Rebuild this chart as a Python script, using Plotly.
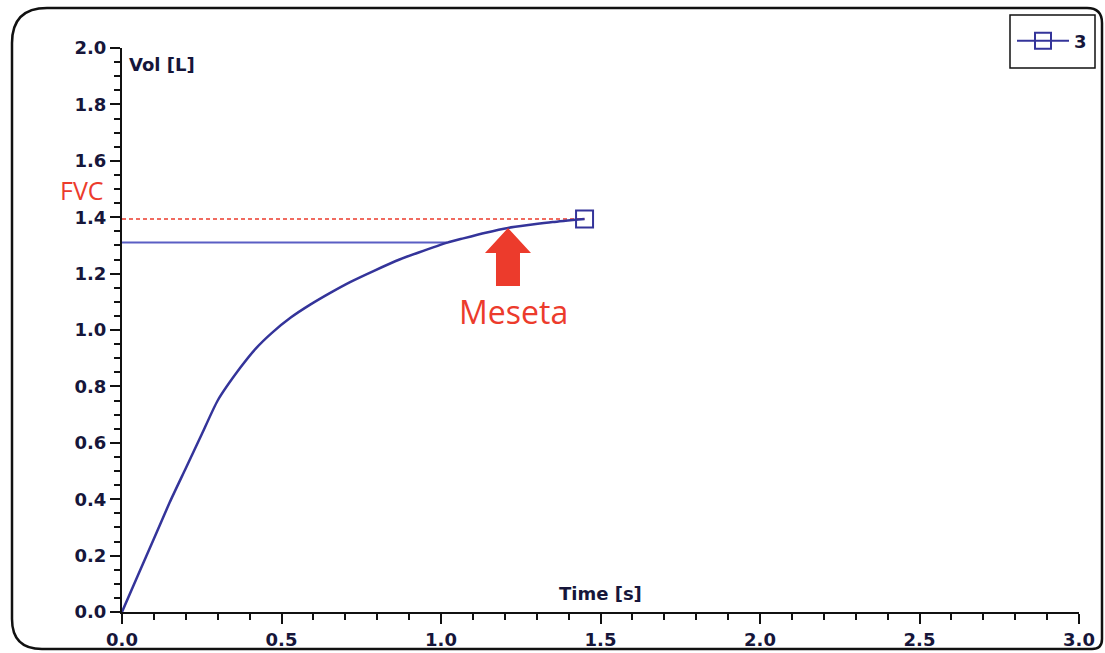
import plotly.graph_objects as go

# ---- data ----
time_s = [0.0, 0.05, 0.10, 0.15, 0.20, 0.25, 0.30, 0.37, 0.42, 0.47, 0.53,
          0.59, 0.65, 0.715, 0.79, 0.87, 0.93, 1.02, 1.07, 1.14, 1.21, 1.28, 1.35, 1.45]
vol_L = [0.0, 0.13, 0.26, 0.39, 0.51, 0.63, 0.75, 0.865, 0.935, 0.99, 1.045,
         1.09, 1.13, 1.17, 1.21, 1.25, 1.275, 1.31, 1.325, 1.345, 1.362, 1.373, 1.383, 1.394]
fvc_time = [0.0, 1.45]
fvc_vol = [1.394, 1.394]
plateau_time = [0.0, 1.02]
plateau_vol = [1.31, 1.31]
end_time = [1.45]
end_vol = [1.394]
meseta_point = (1.21, 1.362)
series_name = "3"
x_ticks = [0.0, 0.5, 1.0, 1.5, 2.0, 2.5, 3.0]
y_ticks = [0.0, 0.2, 0.4, 0.6, 0.8, 1.0, 1.2, 1.4, 1.6, 1.8, 2.0]

NAVY = "#34349a"
RED = "#ec3b2c"
TXT = "#16163a"
tick_font = dict(family="DejaVu Sans", size=18, color=TXT, weight="bold")

fig = go.Figure()
fig.add_trace(go.Scatter(x=fvc_time, y=fvc_vol, mode="lines", showlegend=False,
                         line=dict(color=RED, width=1.5, dash="4px,3px"), hoverinfo="skip"))
fig.add_trace(go.Scatter(x=plateau_time, y=plateau_vol, mode="lines", showlegend=False,
                         line=dict(color="#5a5ec4", width=2), hoverinfo="skip"))
fig.add_trace(go.Scatter(x=time_s, y=vol_L, mode="lines", showlegend=False,
                         legendgroup="s",
                         line=dict(color=NAVY, width=2.5, shape="spline", smoothing=0.6)))
fig.add_trace(go.Scatter(x=end_time, y=end_vol, mode="lines+markers", name=series_name,
                         legendgroup="s", line=dict(color=NAVY, width=2),
                         marker=dict(symbol="square-open", size=17,
                                     color=NAVY, line=dict(color=NAVY, width=2))))

axis_common = dict(showline=True, linecolor="#111111", linewidth=2, ticks="outside",
                   ticklen=10, tickwidth=2, tickcolor="#111111", showgrid=False,
                   zeroline=False, tickfont=tick_font, tickformat=".1f", automargin=False)
fig.update_xaxes(range=[0, 3.0], tickvals=x_ticks,
                 minor=dict(dtick=0.1, ticks="outside", ticklen=6, tickwidth=2,
                            tickcolor="#111111", showgrid=False),
                 **axis_common)
fig.update_yaxes(range=[0, 2.0], tickvals=y_ticks,
                 minor=dict(dtick=0.05, ticks="outside", ticklen=6, tickwidth=2,
                            tickcolor="#111111", showgrid=False),
                 **axis_common)

# axis titles
fig.add_annotation(text="Vol [L]", xref="paper", yref="paper", x=0, y=1.0,
                   xanchor="left", yanchor="top", xshift=5, yshift=-4, showarrow=False,
                   font=dict(family="DejaVu Sans", size=18, color=TXT, weight="bold"))
fig.add_annotation(text="Time [s]", xref="x", yref="paper", x=1.5, y=0,
                   xanchor="center", yanchor="bottom", yshift=6, showarrow=False,
                   font=dict(family="DejaVu Sans", size=18, color=TXT, weight="bold"))
# labels
fig.add_annotation(text="FVC", xref="paper", yref="y", x=0, y=fvc_vol[0],
                   xanchor="center", yanchor="bottom", xshift=-40, yshift=10,
                   showarrow=False, font=dict(family="Open Sans", size=25, color=RED))
fig.add_annotation(text="Meseta", xref="x", yref="y", x=meseta_point[0], y=meseta_point[1],
                   xanchor="center", yanchor="top", xshift=6, yshift=-60,
                   showarrow=False, font=dict(family="Open Sans", size=32, color=RED))

# block arrow pointing at the plateau (pixel path anchored at the data point)
fig.add_shape(type="path", xref="x", yref="y", xsizemode="pixel", ysizemode="pixel",
              xanchor=meseta_point[0], yanchor=meseta_point[1],
              path="M0,0 L23,-25 L12,-25 L12,-58 L-12,-58 L-12,-25 L-23,-25 Z",
              fillcolor=RED, line=dict(width=0))

# outer rounded frame (screenshot border)
fig.add_shape(type="path", xref="paper", yref="paper", xsizemode="pixel", ysizemode="pixel",
              xanchor=0, yanchor=0,
              path=("M-75,604 L965,604 Q980,604 980,589 L980,-27 Q980,-37 970,-37 "
                    "L-80,-37 Q-110,-37 -110,-7 L-110,569 Q-110,604 -75,604 Z"),
              line=dict(color="#111111", width=2.5), fillcolor="rgba(0,0,0,0)", layer="below")

# legend box (drawn as a shape so it can be padded like the reference)
fig.add_shape(type="rect", xref="paper", yref="paper", xsizemode="pixel", ysizemode="pixel",
              xanchor=1, yanchor=1, x0=-69, x1=16, y0=-20, y1=33,
              line=dict(color="#111111", width=1.5), fillcolor="white", layer="below")

fig.update_layout(
    width=1105, height=653,
    margin=dict(l=122, r=26, t=48, b=41),
    plot_bgcolor="white", paper_bgcolor="white",
    showlegend=True,
    legend=dict(x=0.930, y=(612 - 41) / 564, xanchor="left", yanchor="middle",
                bgcolor="rgba(0,0,0,0)", borderwidth=0, itemwidth=52,
                font=dict(family="DejaVu Sans", size=18, color=TXT, weight="bold")),
)

fig.write_html("out.html")
